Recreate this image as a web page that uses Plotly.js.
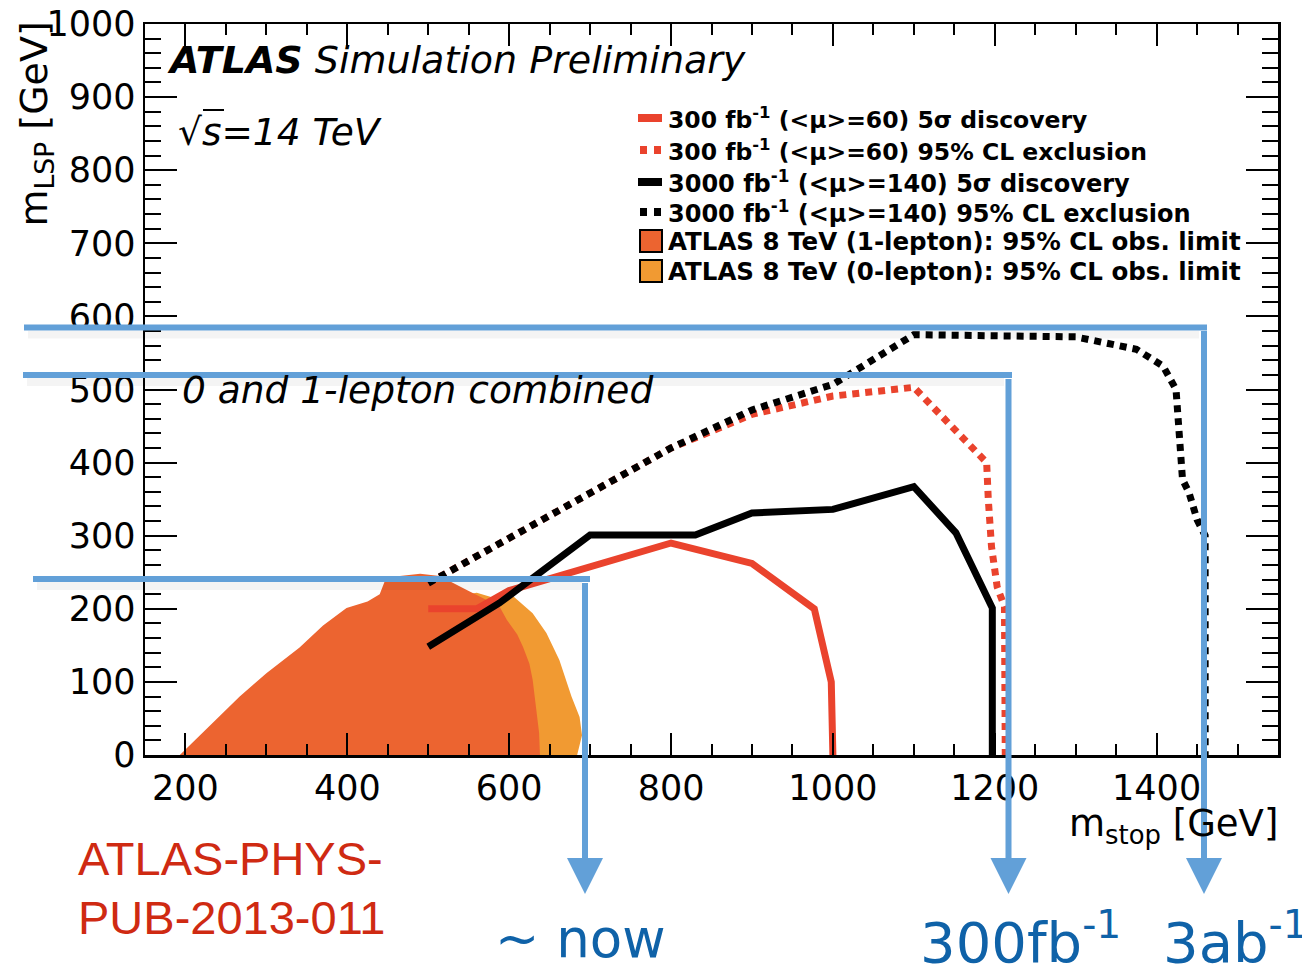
<!DOCTYPE html>
<html><head><meta charset="utf-8">
<script src="https://cdn.plot.ly/plotly-3.0.1.min.js"></script>
<style>html,body{margin:0;padding:0;background:#fff}#chart{width:1302px;height:969px}</style>
</head><body><div id="chart"></div>
<script>
// ---- data (GeV) ----
const stop300Disc = [500, 560, 600, 700, 800, 900, 977, 998, 1000];
const lsp300Disc  = [200, 200, 225, 258, 290, 262, 200, 100, 0];

const stop300Excl = [500, 600, 700, 800, 900, 1000, 1100, 1190, 1192, 1196, 1203, 1212, 1213];
const lsp300Excl  = [235, 297, 358, 420, 466, 491, 503, 400, 350, 285, 230, 203, 0];

const stop3000Disc = [500, 588, 700, 830, 900, 1000, 1100, 1152, 1197, 1197];
const lsp3000Disc  = [148, 208, 301, 301, 331, 336, 367, 304, 201, 0];

const stop3000Excl = [500, 600, 700, 800, 900, 1000, 1100, 1300, 1375, 1408, 1424, 1428, 1432, 1440, 1450, 1460, 1460];
const lsp3000Excl  = [235, 297, 360, 420, 472, 507, 575, 572, 555, 532, 500, 418, 377, 359, 322, 300, 0];

const stop1Lep = [193, 230, 267, 300, 341, 370, 399, 425, 440, 446, 465, 490, 514, 547, 575, 588, 597, 610, 617, 625, 629, 633, 637, 638];
const lsp1Lep  = [0, 40, 80, 112, 147, 177, 201, 210, 220, 237, 245, 248, 245, 226, 210, 203, 185, 165, 148, 125, 103, 70, 30, 0];

const stop0Lep = [430, 560, 590, 605, 629, 646, 662, 670, 677, 687, 690, 684, 430];
const lsp0Lep  = [200, 222, 212, 217, 194, 167, 130, 103, 80, 52, 27, 0, 0];

const legendLabels = [
  '300 fb<sup>-1</sup> (&lt;μ&gt;=60) 5σ discovery',
  '300 fb<sup>-1</sup> (&lt;μ&gt;=60) 95% CL exclusion',
  '3000 fb<sup>-1</sup> (&lt;μ&gt;=140) 5σ discovery',
  '3000 fb<sup>-1</sup> (&lt;μ&gt;=140) 95% CL exclusion',
  'ATLAS 8 TeV (1-lepton): 95% CL obs. limit',
  'ATLAS 8 TeV (0-lepton): 95% CL obs. limit'
];

// ---- styles ----
const RED = '#ea432d', BLACK = '#000000', ORANGE1 = '#ec6430', ORANGE0 = '#f19a32', BLUE = '#62a0d8';
const F = 'DejaVu Sans';
const DOT = '7px,6px';

// pixel -> paper helpers (plot area 145..1278 x 24..755)
const L = 145, R = 1278, T = 24, B = 755;
const px = v => (v - L) / (R - L);
const py = v => (B - v) / (B - T);

const traces = [
  {x: stop0Lep, y: lsp0Lep, mode: 'lines', fill: 'toself', fillcolor: ORANGE0, line: {width: 0}, hoverinfo: 'skip'},
  {x: stop1Lep, y: lsp1Lep, mode: 'lines', fill: 'toself', fillcolor: ORANGE1, line: {width: 0}, hoverinfo: 'skip'},
  {x: stop300Disc, y: lsp300Disc, mode: 'lines', line: {color: RED, width: 7}},
  {x: stop300Excl, y: lsp300Excl, mode: 'lines', line: {color: RED, width: 7, dash: DOT}},
  {x: stop3000Disc, y: lsp3000Disc, mode: 'lines', line: {color: BLACK, width: 7}},
  {x: stop3000Excl, y: lsp3000Excl, mode: 'lines', line: {color: BLACK, width: 7, dash: DOT}}
];

const shapes = [];
const annotations = [];

// legend
const rowY = [118, 150, 182, 212, 241, 271];
const legStyle = [
  {c: RED, d: 'solid'}, {c: RED, d: 'dot'}, {c: BLACK, d: 'solid'}, {c: BLACK, d: 'dot'},
  {c: ORANGE1, d: 'box'}, {c: ORANGE0, d: 'box'}
];
const legSize = [23.5, 23.5, 24, 24, 24.5, 24.5];
legendLabels.forEach((t, i) => {
  const y = rowY[i], s = legStyle[i];
  if (s.d === 'solid') {
    shapes.push({type: 'line', xref: 'paper', yref: 'paper', x0: px(638), x1: px(662), y0: py(y), y1: py(y), line: {color: s.c, width: 8}});
  } else if (s.d === 'dot') {
    [640, 654].forEach(a => shapes.push({type: 'rect', xref: 'paper', yref: 'paper', x0: px(a), x1: px(a + 7), y0: py(y + 4), y1: py(y - 4), fillcolor: s.c, line: {width: 0}}));
  } else {
    shapes.push({type: 'rect', xref: 'paper', yref: 'paper', x0: px(640), x1: px(662), y0: py(y + 11), y1: py(y - 11), fillcolor: s.c, line: {color: '#000', width: 2}});
  }
  annotations.push({xref: 'paper', yref: 'paper', x: px(666), y: py(y), xanchor: 'left', yanchor: 'middle', showarrow: false,
    text: '<b>' + t + '</b>', font: {family: F, size: legSize[i], color: '#000'}});
});

// texts in plot
annotations.push({xref: 'paper', yref: 'paper', x: px(165), y: py(60), xanchor: 'left', yanchor: 'middle', showarrow: false,
  text: '<b><i>ATLAS</i></b> <i>Simulation Preliminary</i>', font: {family: F, size: 38, color: '#000'}});
annotations.push({xref: 'paper', yref: 'paper', x: px(176), y: py(132), xanchor: 'left', yanchor: 'middle', showarrow: false,
  text: '<i>√s=14 TeV</i>', font: {family: F, size: 37.5, color: '#000'}});
annotations.push({xref: 'paper', yref: 'paper', x: px(180), y: py(390), xanchor: 'left', yanchor: 'middle', showarrow: false,
  text: '<i>0 and 1-lepton combined</i>', font: {family: F, size: 37.5, color: '#000'}});
// axis titles
annotations.push({xref: 'paper', yref: 'paper', x: px(36), y: py(20), xanchor: 'center', yanchor: 'top', showarrow: false, textangle: -90,
  text: 'm<sub>LSP</sub> [GeV]', font: {family: F, size: 38, color: '#000'}});
annotations.push({xref: 'paper', yref: 'paper', x: px(1280), y: py(826), xanchor: 'right', yanchor: 'middle', showarrow: false,
  text: 'm<sub>stop</sub> [GeV]', font: {family: F, size: 37, color: '#000'}});

// blue overlays (horizontal ones with a faint drop shadow)
const bl = (x0, y0, x1, y1) => {
  if (y0 === y1) {
    shapes.push({type: 'line', xref: 'paper', yref: 'paper', x0: px(x0 + 4), y0: py(y0 + 7), x1: px(x1 - 8), y1: py(y1 + 7), line: {color: 'rgba(0,0,0,0.045)', width: 8}});
  }
  shapes.push({type: 'line', xref: 'paper', yref: 'paper', x0: px(x0), y0: py(y0), x1: px(x1), y1: py(y1), line: {color: BLUE, width: 6}});
};
bl(24, 327.5, 1207, 327.5); bl(1204, 331, 1204, 862);
bl(23, 375, 1012, 375);     bl(1008.5, 379, 1008.5, 862);
bl(33, 579, 590, 579);      bl(585, 583, 585, 862);
const tri = (cx) => shapes.push({type: 'path', xref: 'paper', yref: 'paper',
  path: `M ${px(cx - 18)} ${py(858)} L ${px(cx + 18)} ${py(858)} L ${px(cx)} ${py(894)} Z`, fillcolor: BLUE, line: {width: 0}});
tri(1204); tri(1008.5); tri(585);

// overline of the square root
shapes.push({type: 'line', xref: 'paper', yref: 'paper', x0: px(203), x1: px(224), y0: py(110), y1: py(110), line: {color: '#000', width: 2}});

// slide texts
const redF = {family: 'Liberation Sans', size: 47, color: '#cf2a12'};
annotations.push({xref: 'paper', yref: 'paper', x: px(76), y: py(858), xanchor: 'left', yanchor: 'middle', showarrow: false, text: 'ATLAS-PHYS-', font: redF});
annotations.push({xref: 'paper', yref: 'paper', x: px(76), y: py(918), xanchor: 'left', yanchor: 'middle', showarrow: false, text: 'PUB-2013-011', font: redF});
const blueF = {family: F, size: 56, color: '#0f62a8'};
annotations.push({xref: 'paper', yref: 'paper', x: px(493), y: py(938), xanchor: 'left', yanchor: 'middle', showarrow: false, text: '~ now', font: {family: F, size: 53, color: '#0f62a8'}});
annotations.push({xref: 'paper', yref: 'paper', x: px(918), y: py(938), xanchor: 'left', yanchor: 'middle', showarrow: false, text: '300fb<sup>-1</sup>', font: blueF});
annotations.push({xref: 'paper', yref: 'paper', x: px(1161), y: py(938), xanchor: 'left', yanchor: 'middle', showarrow: false, text: '3ab<sup>-1</sup>', font: blueF});

const axCommon = {ticks: 'inside', tickwidth: 2, tickcolor: '#000', showline: true, linewidth: 2.5, linecolor: '#000',
  mirror: 'allticks', showgrid: false, zeroline: false, fixedrange: true, tickfont: {family: F, size: 35, color: '#000'}};

const layout = {
  width: 1302, height: 969, margin: {l: L, r: 1302 - R, t: T, b: 969 - B},
  paper_bgcolor: '#fff', plot_bgcolor: '#fff', showlegend: false,
  xaxis: Object.assign({}, axCommon, {range: [150, 1550], tick0: 200, dtick: 200, ticklen: 22,
    minor: {tick0: 200, dtick: 50, ticks: 'inside', ticklen: 11, tickwidth: 2, tickcolor: '#000', showgrid: false}}),
  yaxis: Object.assign({}, axCommon, {range: [0, 1000], tick0: 0, dtick: 100, ticklen: 32,
    minor: {tick0: 0, dtick: 20, ticks: 'inside', ticklen: 16, tickwidth: 2, tickcolor: '#000', showgrid: false}}),
  shapes: shapes, annotations: annotations
};

Plotly.newPlot('chart', traces, layout, {staticPlot: true});
</script></body></html>
